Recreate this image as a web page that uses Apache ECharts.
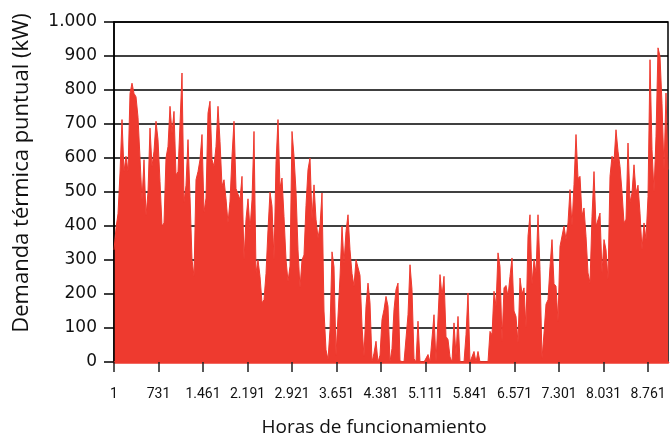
<!DOCTYPE html>
<html lang="es">
<head>
    <meta charset="UTF-8">
    <title>Demanda térmica puntual</title>
    <style>
        html, body { margin: 0; padding: 0; background: #fff; }
        #chart { width: 671px; height: 437px; }
    </style>
</head>
<body>
<div id="chart"></div>
<script src="https://cdn.jsdelivr.net/npm/echarts@6/dist/echarts.min.js"></script>
<script>
    // una muestra cada ~33 horas
    var pasoHoras = 32.8;
    var ticksHoras = [1, 731, 1461, 2191, 2921, 3651, 4381, 5111, 5841, 6571, 7301, 8031, 8761];

    var demanda = [
        // enero - febrero
        330, 394, 436, 556, 713, 560, 605, 560, 790, 820, 790, 780, 720, 600, 477, 595, 430, 500, 688, 575,
        620, 708, 654, 531, 400, 409, 600, 634, 752, 673, 737, 550, 560, 700, 850, 470, 520, 654, 487, 301,
        252, 536, 560, 595, 669, 440, 482, 732, 767, 595, 575, 634, 752, 649, 517, 536,
        // marzo - mayo
        480, 409, 473, 605, 708, 510, 512, 477, 546, 300, 420, 480, 389, 477, 678, 262, 300, 252, 174, 183,
        260, 389, 500, 458, 300, 585, 713, 512, 541, 428, 301, 237, 282, 678, 605, 502, 330, 218, 300, 315,
        460, 566, 600, 420, 521, 420, 365, 400, 497, 150, 36, 7, 95, 324, 280,
        // verano
        20, 22, 250, 399, 290, 384, 433, 330, 260, 223, 301, 306, 255, 105, 17, 164, 232, 174, 0, 26,
        61, 0, 20, 125, 154, 193, 164, 0, 40, 154, 213, 232, 3, 0, 0, 0, 139, 286, 213, 10,
        0, 120, 0, 0, 0, 0, 22, 0, 0, 139, 0, 0, 257, 193, 252, 75, 66,
        15, 0, 115, 20, 134, 0, 0, 0, 80, 203, 0, 0, 31, 0, 31, 0, 0, 0, 0, 0,
        // otoño
        90, 80, 208, 164, 321, 281, 60, 218, 225, 193, 252, 306, 150, 134, 56, 247, 200, 218, 100, 370,
        433, 228, 301, 262, 433, 272, 10, 85, 170, 183, 280, 360, 230, 223, 120, 340,
        // noviembre - diciembre
        340, 400, 360, 409, 507, 400, 522, 669, 540, 546, 430, 453, 370, 262, 232, 428, 560, 399, 400, 438,
        262, 360, 330, 242, 546, 605, 590, 683, 620, 575, 500, 409, 420, 644, 470, 497, 580, 497, 520, 438,
        330, 409, 360, 487, 889, 625, 500, 664, 924, 899, 760, 566, 791, 566
    ];

    var rojo = '#ee3a2f';

    function miles(v) {
        return String(v).replace(/\B(?=(\d{3})+(?!\d))/g, '.');
    }

    var serie = demanda.map(function (v, i) {
        return [1 + i * pasoHoras, v];
    });

    var myChart = echarts.init(document.getElementById('chart'), null, {renderer: 'canvas'});

    var option = {
        backgroundColor: '#fff',
        animation: false,
        grid: {
            left: 114,
            right: 3,
            top: 22,
            bottom: 75,
            show: true,
            borderColor: '#000',
            borderWidth: 1.5,
            backgroundColor: 'transparent'
        },
        graphic: [{
            type: 'text',
            x: 374,
            y: 428,
            style: {
                text: 'Horas de funcionamiento',
                fontFamily: 'Open Sans',
                fontSize: 19,
                fill: '#111',
                align: 'center',
                verticalAlign: 'middle'
            }
        }, {
            type: 'text',
            x: 22,
            y: 173,
            rotation: Math.PI / 2,
            style: {
                text: 'Demanda térmica puntual (kW)',
                fontFamily: 'Open Sans',
                fontSize: 22,
                fill: '#111',
                align: 'center',
                verticalAlign: 'middle'
            }
        }],
        xAxis: {
            type: 'value',
            min: 1,
            max: 1 + (demanda.length - 1) * pasoHoras,
            z: 3,
            axisLine: {
                lineStyle: {color: rojo, width: 2.5}
            },
            axisTick: {
                customValues: ticksHoras,
                length: 10,
                lineStyle: {color: '#222', width: 1.5}
            },
            axisLabel: {
                customValues: ticksHoras,
                margin: 25,
                fontFamily: 'Roboto',
                fontSize: 14,
                color: '#111',
                formatter: function (v) { return miles(v); }
            },
            splitLine: {show: false}
        },
        yAxis: {
            type: 'value',
            min: 0,
            max: 1000,
            interval: 100,
            z: 3,
            axisLine: {
                show: true,
                lineStyle: {color: '#000', width: 1.5}
            },
            axisTick: {
                show: true,
                length: 10,
                lineStyle: {color: '#000', width: 1.5}
            },
            axisLabel: {
                margin: 17,
                fontFamily: 'DejaVu Sans',
                fontSize: 17,
                color: '#111',
                formatter: function (v) { return miles(v); }
            },
            splitLine: {
                lineStyle: {color: '#000', width: 1.5}
            }
        },
        series: [{
            type: 'line',
            data: serie,
            showSymbol: false,
            sampling: null,
            lineStyle: {color: rojo, width: 1},
            areaStyle: {color: rojo, opacity: 1},
            itemStyle: {color: rojo}
        }]
    };
    myChart.setOption(option);
</script>
</body>
</html>
